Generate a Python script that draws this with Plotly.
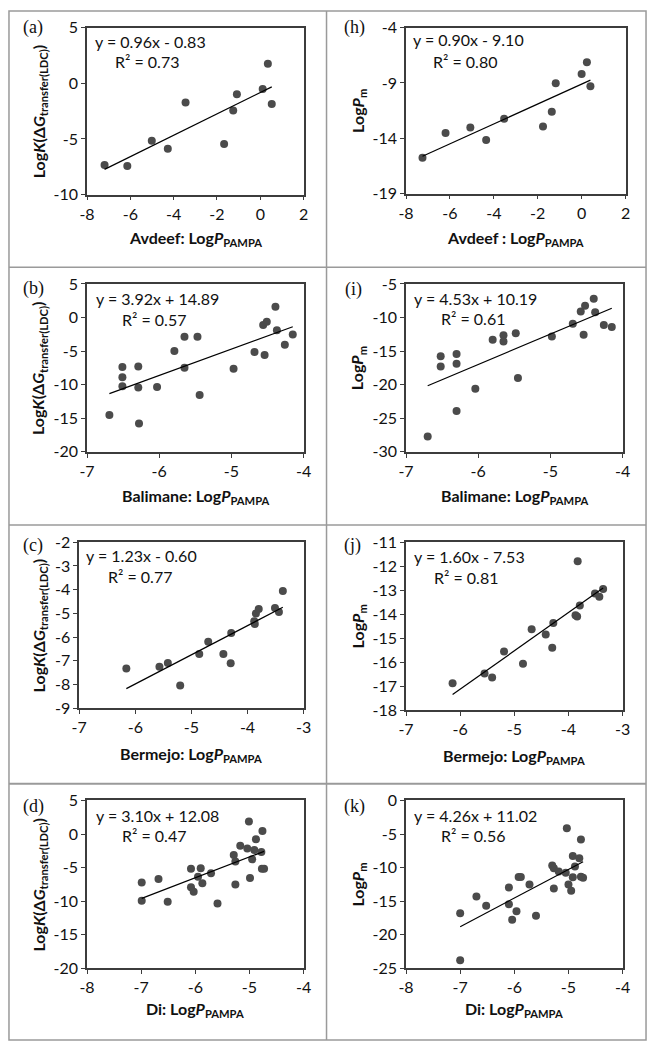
import plotly.graph_objects as go

W, H = 655, 1050

# ---------------- data ----------------
avdeef_x = [-7.19, -6.14, -5.01, -4.27, -3.45, -1.67, -1.25, -1.08, 0.11, 0.35, 0.53]
a_y = [-7.34, -7.43, -5.16, -5.87, -1.73, -5.45, -2.44, -0.99, -0.52, 1.75, -1.85]
h_x = [-7.25, -6.20, -5.07, -4.35, -3.53, -1.76, -1.36, -1.18, 0.00, 0.24, 0.40]
h_y = [-15.76, -13.53, -13.03, -14.16, -12.23, -12.94, -11.60, -9.02, -8.19, -7.12, -9.29]

b_x = [-6.69, -6.51, -6.51, -6.51, -6.29, -6.29, -6.28, -6.03, -5.79, -5.65, -5.65,
       -5.47, -5.44, -4.97, -4.68, -4.56, -4.54, -4.51, -4.39, -4.37, -4.26, -4.15]
b_y = [-14.52, -7.38, -8.89, -10.22, -7.28, -10.41, -15.79, -10.36, -4.98, -2.88, -7.48,
       -2.88, -11.54, -7.62, -5.13, -1.12, -5.57, -0.63, 1.62, -1.90, -4.05, -2.53]
i_x = [-6.70, -6.52, -6.52, -6.30, -6.30, -6.30, -6.04, -5.80, -5.65, -5.65, -5.48,
       -5.45, -4.98, -4.69, -4.58, -4.54, -4.52, -4.40, -4.38, -4.26, -4.15]
i_y = [-27.70, -15.76, -17.28, -15.42, -16.89, -23.93, -20.61, -13.32, -12.63, -13.56, -12.34,
       -18.99, -12.83, -10.92, -9.11, -12.58, -8.23, -7.20, -9.21, -11.12, -11.41]

c_x = [-6.16, -5.57, -5.42, -5.20, -4.86, -4.70, -4.43, -4.30, -4.29, -3.88, -3.87,
       -3.85, -3.80, -3.51, -3.44, -3.37]
c_y = [-7.33, -7.25, -7.10, -8.05, -6.72, -6.20, -6.72, -7.11, -5.83, -5.33, -5.45,
       -5.01, -4.82, -4.78, -4.94, -4.06]
j_x = [-6.14, -5.55, -5.41, -5.19, -4.84, -4.68, -4.42, -4.30, -4.28, -3.87, -3.84,
       -3.83, -3.79, -3.51, -3.43, -3.36]
j_y = [-16.88, -16.47, -16.64, -15.56, -16.07, -14.63, -14.85, -15.40, -14.37, -14.05, -14.10,
       -11.79, -13.64, -13.14, -13.27, -12.95]

d_x = [-6.99, -6.99, -6.68, -6.51, -6.08, -6.08, -6.03, -5.95, -5.90, -5.87, -5.71, -5.59,
       -5.29, -5.26, -5.26, -5.17, -5.04, -5.01, -4.99, -4.95, -4.91, -4.88, -4.78, -4.76,
       -4.77, -4.73]
d_y = [-7.23, -9.92, -6.69, -10.07, -5.18, -7.92, -8.60, -6.35, -5.08, -7.33, -5.86, -10.36,
       -3.12, -4.10, -7.52, -1.75, -2.14, 1.87, -6.55, -3.76, -2.39, -0.77, -2.68, 0.45,
       -5.18, -5.18]
k_x = [-7.00, -7.00, -6.70, -6.52, -6.10, -6.10, -6.04, -5.96, -5.92, -5.88, -5.72, -5.60,
       -5.30, -5.27, -5.27, -5.18, -5.05, -5.03, -5.00, -4.95, -4.92, -4.92, -4.88, -4.80,
       -4.77, -4.77, -4.73]
k_y = [-16.78, -23.78, -14.29, -15.70, -12.96, -15.46, -17.76, -16.49, -11.40, -11.40, -12.52,
       -17.17, -9.69, -10.08, -13.11, -10.57, -10.76, -4.16, -12.52, -13.45, -8.27, -11.45,
       -9.83, -8.61, -5.82, -11.35, -11.50]

slopes = [0.96, 0.90, 3.92, 4.53, 1.23, 1.60, 3.10, 4.26]
intercepts = [-0.83, -9.10, 14.89, 10.19, -0.60, -7.53, 12.08, 11.02]
r2_values = [0.73, 0.80, 0.57, 0.61, 0.77, 0.81, 0.47, 0.56]
panel_labels = ["(a)", "(h)", "(b)", "(i)", "(c)", "(j)", "(d)", "(k)"]
x_titles = ["Avdeef: Log<i>P</i><sub>PAMPA</sub>", "Avdeef : Log<i>P</i><sub>PAMPA</sub>",
            "Balimane: Log<i>P</i><sub>PAMPA</sub>", "Balimane: Log<i>P</i><sub>PAMPA</sub>",
            "Bermejo: Log<i>P</i><sub>PAMPA</sub>", "Bermejo: Log<i>P</i><sub>PAMPA</sub>",
            "Di: Log<i>P</i><sub>PAMPA</sub>", "Di: Log<i>P</i><sub>PAMPA</sub>"]
ytitle_k = "Log<i>K</i>(Δ<i>G</i><sub>transfer(LDC)</sub>)"
ytitle_p = "Log<i>P</i><sub>m</sub>"
y_titles = [ytitle_k, ytitle_p] * 4
x_ranges = [(-8, 2, 2), (-8, 2, 2), (-7, -4, 1), (-7, -4, 1),
            (-7, -3, 1), (-7, -3, 1), (-8, -4, 1), (-8, -4, 1)]
y_ranges = [(-10, 5, 5), (-19, -4, 5), (-20, 5, 5), (-30, -5, 5),
            (-9, -2, 1), (-18, -11, 1), (-20, 5, 5), (-25, 0, 5)]
series = [(avdeef_x, a_y), (h_x, h_y), (b_x, b_y), (i_x, i_y),
          (c_x, c_y), (j_x, j_y), (d_x, d_y), (k_x, k_y)]

# ---------------- layout geometry (pixels) ----------------
plot_boxes = [(81, 303, 18, 188), (408, 633, 18, 187),
              (81, 303, 279, 450), (408, 630, 279, 450),
              (73, 303, 542, 711), (408, 630, 542, 713),
              (81, 303, 805, 976), (408, 630, 805, 976)]
eq_pos = [(87, 32, 108, 52), (413, 30, 434, 52),
          (88, 294, 115, 315), (414, 294, 442, 314),
          (78, 556, 100, 577), (414, 557, 435, 578),
          (88, 820, 115, 841), (414, 820, 442, 841)]
label_pos = [(13, 18), (342, 18), (13, 284), (343, 285),
             (13, 545), (342, 545), (13, 811), (342, 811)]
xtitle_y = [233, 233, 495, 495, 758, 760, 1018, 1018]
ytitle_x = [32, 359, 32, 359, 32, 359, 32, 359]

def px(x):
    return x / W

def py(y):
    return 1 - y / H

fig = go.Figure()
FONT = "Lato, 'Open Sans', sans-serif"
tickfont = dict(family=FONT, size=16, color="#111111")
annotations = []

for n in range(8):
    xs, ys = series[n]
    ax = "" if n == 0 else str(n + 1)
    xa, ya = "x" + ax, "y" + ax
    fig.add_trace(go.Scatter(x=xs, y=ys, mode="markers", xaxis=xa, yaxis=ya,
                             marker=dict(size=8, color="#4b4b4b"), showlegend=False,
                             hoverinfo="skip"))
    x0, x1 = min(xs), max(xs)
    fig.add_trace(go.Scatter(x=[x0, x1],
                             y=[slopes[n] * x0 + intercepts[n], slopes[n] * x1 + intercepts[n]],
                             mode="lines", xaxis=xa, yaxis=ya,
                             line=dict(color="black", width=1.2), showlegend=False,
                             hoverinfo="skip"))
    L, R, T, B = plot_boxes[n]
    xr, yr = x_ranges[n], y_ranges[n]
    xt = list(range(xr[0], xr[1] + 1, xr[2]))
    yt = list(range(yr[0], yr[1] + 1, yr[2]))
    axis_common = dict(showgrid=False, zeroline=False, showline=True, mirror=True,
                       linecolor="#3c3c3c", linewidth=1.5, ticks="outside", ticklen=4,
                       tickcolor="#3c3c3c", tickfont=tickfont, fixedrange=True)
    fig.update_layout(**{
        ("xaxis" + ax): dict(domain=[px(L), px(R)], range=[xr[0], xr[1]], anchor=ya,
                             tickvals=xt, ticktext=[f"{v:g}" for v in xt], **axis_common),
        ("yaxis" + ax): dict(domain=[py(B), py(T)], range=[yr[0], yr[1]], anchor=xa,
                             tickvals=yt, ticktext=[f"{v:g}" for v in yt], **axis_common),
    })
    ex, ey, rx, ry = eq_pos[n]
    b = intercepts[n]
    sign = "+" if b >= 0 else "-"
    eqtxt = f"y = {slopes[n]:.2f}x {sign} {abs(b):.2f}"
    txtfont = dict(family=FONT, size=16, color="#111111")
    annotations.append(dict(x=px(ex), y=py(ey), xref="paper", yref="paper", text=eqtxt,
                            showarrow=False, xanchor="left", yanchor="middle", font=txtfont))
    annotations.append(dict(x=px(rx), y=py(ry), xref="paper", yref="paper",
                            text=f"R² = {r2_values[n]:.2f}", showarrow=False,
                            xanchor="left", yanchor="middle", font=txtfont))
    lx, ly = label_pos[n]
    annotations.append(dict(x=px(lx), y=py(ly), xref="paper", yref="paper",
                            text=panel_labels[n], showarrow=False, xanchor="left",
                            yanchor="middle",
                            font=dict(family="'Liberation Serif', 'DejaVu Serif', serif",
                                      size=18, color="#111111")))
    titlefont = dict(family=FONT, size=16, color="#111111")
    annotations.append(dict(x=px((L + R) / 2), y=py(xtitle_y[n]), xref="paper", yref="paper",
                            text="<b>" + x_titles[n] + "</b>", showarrow=False,
                            xanchor="center", yanchor="middle", font=titlefont))
    annotations.append(dict(x=px(ytitle_x[n]), y=py((T + B) / 2), xref="paper", yref="paper",
                            text="<b>" + y_titles[n] + "</b>", showarrow=False, textangle=-90,
                            xanchor="center", yanchor="middle", font=titlefont))

# cell borders (table grid)
grid_color = "#9a9a9a"
shapes = [
    dict(type="rect", xref="paper", yref="paper", x0=px(1), x1=px(654), y0=py(1), y1=py(1049),
         line=dict(color=grid_color, width=1.5)),
    dict(type="line", xref="paper", yref="paper", x0=px(326.5), x1=px(326.5), y0=py(1), y1=py(1049),
         line=dict(color=grid_color, width=1.5)),
    dict(type="line", xref="paper", yref="paper", x0=px(1), x1=px(654), y0=py(262), y1=py(262),
         line=dict(color=grid_color, width=1.5)),
    dict(type="line", xref="paper", yref="paper", x0=px(1), x1=px(654), y0=py(524.5), y1=py(524.5),
         line=dict(color=grid_color, width=1.5)),
    dict(type="line", xref="paper", yref="paper", x0=px(1), x1=px(654), y0=py(788), y1=py(788),
         line=dict(color=grid_color, width=2)),
]

fig.update_layout(width=W, height=H, margin=dict(l=0, r=0, t=0, b=0),
                  paper_bgcolor="white", plot_bgcolor="white",
                  annotations=annotations, shapes=shapes, showlegend=False)

fig.write_html("out.html", config={"displayModeBar": False},
               post_script="document.body.style.margin='0';document.body.style.overflow='hidden';")
